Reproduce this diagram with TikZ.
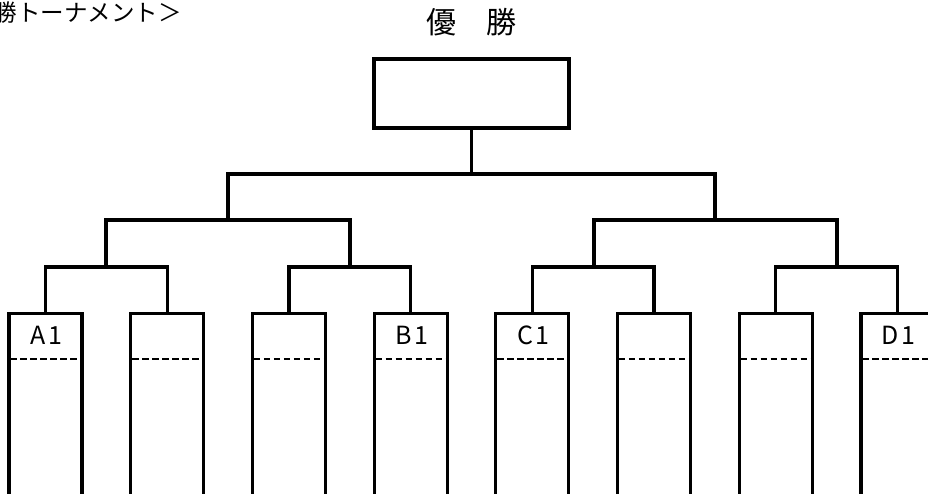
\documentclass[tikz,border=0pt]{standalone}
\usepackage{fontspec}
\usepackage{tikz}
\newfontfamily\jp{Noto Sans CJK JP}
\newfontfamily\jplab[LetterSpace=10]{Noto Sans CJK JP}

\begin{document}
\begin{tikzpicture}[x=1pt,y=-1pt,
    entry/.style={draw,line width=3.2pt,minimum width=73pt,minimum height=260pt,
      anchor=north,inner sep=0pt},
    bracket/.style={line width=3.2pt},
    split/.style={line width=2.4pt,dash pattern=on 6.5pt off 3.5pt}]
        \useasboundingbox (0,0) rectangle (928,494);
        \clip (0,0) rectangle (928,494);

        % headings
        \node[anchor=east,inner sep=0pt,font=\jp\fontsize{23.5}{23.5}\selectfont] (heading) at (182,13) {勝トーナメント＞};
        \node[font=\jp\fontsize{30}{30}\selectfont] (title) at (471,22) {優　勝};

        % winner box
        \node[draw,line width=3.2pt,minimum width=195pt,minimum height=69pt,inner sep=0pt]
            (champ) at (471.5,93.5) {};

        % entry boxes
        \foreach \i/\lab in {1/A1,2/,3/,4/B1,5/C1,6/,7/,8/D1} {
            \node[entry] (p\i) at ({45.5+121.7*(\i-1)},312) {};
            \node[font=\jplab\fontsize{25}{25}\selectfont] (t\i) at ([xshift=1pt,yshift=-23pt]p\i.north) {\lab};
            \draw[split] ([xshift=3pt,yshift=-47pt]p\i.north west) -- ([yshift=-47pt]p\i.north east);
        }

        % first round
        \coordinate (j1) at (106,267);
        \coordinate (j2) at (350,267);
        \coordinate (j3) at (594,267);
        \coordinate (j4) at (837,267);
        \draw[bracket] (p1.north) |- (j1) -| (p2.north);
        \draw[bracket] (p3.north) |- (j2) -| (p4.north);
        \draw[bracket] (p5.north) |- (j3) -| (p6.north);
        \draw[bracket] (p7.north) |- (j4) -| (p8.north);

        % semi finals
        \coordinate (k1) at (228,220);
        \coordinate (k2) at (715,220);
        \draw[bracket] (j1) |- (k1) -| (j2);
        \draw[bracket] (j3) |- (k2) -| (j4);

        % final
        \coordinate (f) at (471.5,174);
        \draw[bracket] (k1) |- (f) -| (k2);
        \draw[bracket] (f) -- (champ.south);
    \end{tikzpicture}
\end{document}
